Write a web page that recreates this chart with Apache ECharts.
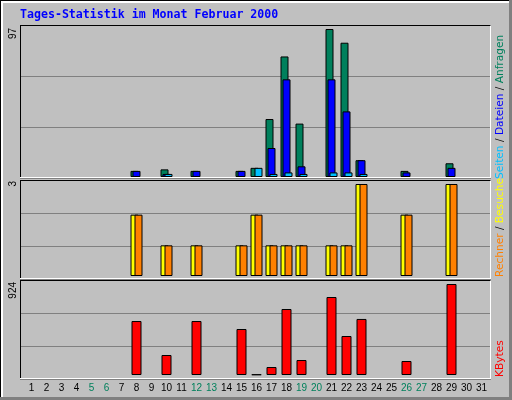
<!DOCTYPE html>
<html>
<head>
<meta charset="utf-8">
<script src="https://cdn.jsdelivr.net/npm/echarts@6/dist/echarts.min.js"></script>
<style>
  html, body { margin: 0; padding: 0; background: #c0c0c0; }
  #main { width: 512px; height: 400px; }
</style>
</head>
<body>
<div id="main"></div>
<script>
// Tage im Februar 2000
const days = ['1','2','3','4','5','6','7','8','9','10','11','12','13','14','15','16',
  '17','18','19','20','21','22','23','24','25','26','27','28','29','30','31'];
const weekendDays = ['5','6','12','13','19','20','26','27'];

// Werte pro Tag (Index 0 = 1. Februar)
const hits   = [0,0,0,0,0,0,0,4,0,5,0,4,0,0,4,6,38,79,35,0,97,88,11,0,0,4,0,0,9,0,0];
const files  = [0,0,0,0,0,0,0,4,0,2,0,4,0,0,4,0,19,64,7,0,64,43,11,0,0,3,0,0,6,0,0];
const pages  = [0,0,0,0,0,0,0,0,0,2,0,0,0,0,0,6,2,3,2,0,3,3,2,0,0,0,0,0,0,0,0];
const visits = [0,0,0,0,0,0,0,2,0,1,0,1,0,0,1,2,1,1,1,0,1,1,3,0,0,2,0,0,3,0,0];
const sites  = [0,0,0,0,0,0,0,2,0,1,0,1,0,0,1,2,1,1,1,0,1,1,3,0,0,2,0,0,3,0,0];
const kbytes = [0,0,0,0,0,0,0,548,0,203,0,548,0,0,467,6,81,670,152,0,792,396,569,0,0,142,0,0,924,0,0];

const topMax = Math.max(...hits);
const midMax = Math.max(...visits, ...sites);
const botMax = Math.max(...kbytes);

const chart = echarts.init(document.getElementById('main'));

// Rahmen der drei Felder (oben, mitte, unten)
const panels = [[25, 178], [180, 279], [280, 379]];
const L = 20, R = 491;

const frameGrid = (top, bottom) => ({ left: L, top: top, width: R - L, height: bottom - top });

const bars = function (name, values, color, idx, width, gap) {
  return {
    name: name,
    type: 'bar',
    xAxisIndex: idx,
    yAxisIndex: idx,
    barWidth: width,
    barGap: gap,
    silent: true,
    itemStyle: { color: color, borderColor: '#000', borderWidth: 1 },
    data: values.map(v => v || null)
  };
};

let graphics = [
  // Außenrahmen
  { type: 'line', shape: { x1: 0, y1: 0.5, x2: 512, y2: 0.5 }, style: { stroke: '#000' } },
  { type: 'line', shape: { x1: 0.5, y1: 0, x2: 0.5, y2: 400 }, style: { stroke: '#000' } },
  { type: 'line', shape: { x1: 1, y1: 2, x2: 509, y2: 2 }, style: { stroke: '#fff', lineWidth: 2 } },
  { type: 'line', shape: { x1: 2, y1: 1, x2: 2, y2: 397 }, style: { stroke: '#fff', lineWidth: 2 } },
  { type: 'rect', shape: { x: 509, y: 0, width: 3, height: 400 }, style: { fill: '#808080' } },
  { type: 'rect', shape: { x: 0, y: 397, width: 512, height: 3 }, style: { fill: '#808080' } }
];
panels.forEach(function (p) {
  const t = p[0] + 0.5, b = p[1] - 0.5;
  graphics.push(
    { type: 'line', z: 100, shape: { x1: L, y1: t, x2: R, y2: t }, style: { stroke: '#000' } },
    { type: 'line', z: 100, shape: { x1: L + 0.5, y1: t, x2: L + 0.5, y2: b }, style: { stroke: '#000' } },
    { type: 'line', z: 100, shape: { x1: L, y1: b, x2: R, y2: b }, style: { stroke: '#fff' } },
    { type: 'line', z: 100, shape: { x1: R - 0.5, y1: t, x2: R - 0.5, y2: b }, style: { stroke: '#fff' } }
  );
});

// Maximalwerte links, senkrecht
const maxLabel = (value, y) => ({
  type: 'text', x: 13.5, y: y, rotation: Math.PI / 2,
  style: {
    text: String(value), fill: '#000', font: '10px "Liberation Sans"',
    align: 'right', verticalAlign: 'middle', textAlign: 'right', textVerticalAlign: 'middle'
  }
});
graphics.push(maxLabel(topMax, 28), maxLabel(midMax, 181), maxLabel(botMax, 282));

// Legenden rechts, senkrecht
const sideFont = '10.6px "DejaVu Sans"';
const sideLabel = (text, rich, y) => ({
  type: 'text', x: 500.5, y: y, rotation: Math.PI / 2,
  style: {
    text: text, rich: rich, fill: '#000', font: sideFont,
    align: 'left', verticalAlign: 'middle', textAlign: 'left', textVerticalAlign: 'middle'
  }
});
const rs = (c) => ({ fill: c, color: c, font: sideFont });
graphics.push(
  sideLabel('{s|Seiten} / {d|Dateien} / {a|Anfragen}',
    { s: rs('#00c0ff'), d: rs('#0000ff'), a: rs('#00805c') }, 179),
  sideLabel('{r|Rechner} / {b|Besuche}', { r: rs('#ff8000'), b: rs('#ffff00') }, 277),
  sideLabel('{k|KBytes}', { k: rs('#ff0000') }, 377)
);

const hiddenValueX = { type: 'value', show: false };
const frameY = {
  type: 'value', min: 0, max: 3, interval: 1,
  axisLabel: { show: false }, axisLine: { show: false }, axisTick: { show: false },
  splitLine: { lineStyle: { color: '#808080', width: 1 } }
};
const dataX = (idx, showLabels) => ({
  type: 'category', gridIndex: idx, data: days,
  show: showLabels,
  axisLine: { show: false }, axisTick: { show: false },
  axisLabel: {
    interval: 0, margin: 8, fontSize: 10, fontFamily: 'Liberation Sans',
    color: (v) => weekendDays.indexOf(v) >= 0 ? '#00805c' : '#000'
  }
});
const dataY = (idx, max) => ({ type: 'value', gridIndex: idx, min: 0, max: max, show: false, splitLine: { show: false } });

chart.setOption({
  backgroundColor: '#c0c0c0',
  animation: false,
  title: {
    text: 'Tages-Statistik im Monat Februar 2000',
    left: 20, top: 9, padding: 0,
    textStyle: { color: '#0000ff', fontFamily: 'DejaVu Sans Mono', fontWeight: 'bold', fontSize: 11.6 }
  },
  grid: [
    frameGrid(25, 178), frameGrid(180, 279), frameGrid(280, 379),
    { left: 24, width: 465, top: 29, height: 148 },
    { left: 24, width: 465, top: 184, height: 92 },
    { left: 24, width: 465, top: 284, height: 91 }
  ],
  xAxis: [
    Object.assign({ gridIndex: 0 }, hiddenValueX),
    Object.assign({ gridIndex: 1 }, hiddenValueX),
    Object.assign({ gridIndex: 2 }, hiddenValueX),
    dataX(3, false), dataX(4, false), dataX(5, true)
  ],
  yAxis: [
    Object.assign({ gridIndex: 0 }, frameY),
    Object.assign({ gridIndex: 1 }, frameY),
    Object.assign({ gridIndex: 2 }, frameY),
    dataY(3, topMax), dataY(4, midMax), dataY(5, botMax)
  ],
  series: [
    bars('Anfragen', hits, '#00805c', 3, 8, '-75%'),
    bars('Dateien', files, '#0000ff', 3, 8, '-75%'),
    bars('Seiten', pages, '#00c0ff', 3, 8, '-75%'),
    bars('Besuche', visits, '#ffff00', 4, 8, '-50%'),
    bars('Rechner', sites, '#ff8000', 4, 8, '-50%'),
    bars('KBytes', kbytes, '#ff0000', 5, 10, '0%')
  ],
  graphic: graphics
});
</script>
</body>
</html>
